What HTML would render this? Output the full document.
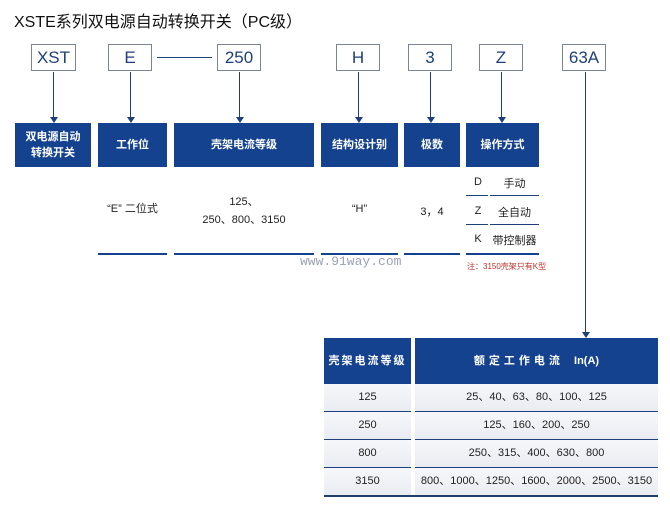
<!DOCTYPE html>
<html><head><meta charset="utf-8"><style>
body{margin:0;width:670px;height:525px;background:#fff;position:relative;overflow:hidden;font-family:"Liberation Sans","Noto Sans CJK SC",sans-serif;color:#222}
.a{position:absolute}
.tb{position:absolute;top:44px;height:27px;border:1px solid #7a8496;box-sizing:border-box;font-size:17px;color:#1e3f7a;text-align:center;line-height:26px;background:#fff}
.bb{position:absolute;top:123px;height:44px;background:#15428f;color:#fff;font-size:11px;font-weight:bold;display:flex;align-items:center;justify-content:center;text-align:center;line-height:16px}
.vl{position:absolute;width:1px;background:#1e3f7a}
.ar{position:absolute;width:0;height:0;border-left:4px solid transparent;border-right:4px solid transparent;border-top:6px solid #1e3f7a}
.hl{position:absolute;height:2px;background:#15428f}
.t{position:absolute;font-size:11px;color:#222;text-align:center}
.row{position:absolute;left:324px;width:334px;height:27px;font-size:11px}
.row div{position:absolute;top:0;height:27px;line-height:27px;text-align:center;background:linear-gradient(#f6f7fa,#e9ecf2)}
</style></head><body>
<div class="a" style="left:14px;top:8px;font-size:16px;color:#111">XSTE系列双电源自动转换开关（PC级）</div>

<div class="tb" style="left:31px;width:45px">XST</div>
<div class="tb" style="left:108px;width:44px">E</div>
<div class="a" style="left:157px;top:57px;width:55px;height:1px;background:#1e3f7a"></div>
<div class="tb" style="left:217px;width:44px">250</div>
<div class="tb" style="left:336px;width:44px">H</div>
<div class="tb" style="left:408px;width:44px">3</div>
<div class="tb" style="left:479px;width:44px">Z</div>
<div class="tb" style="left:562px;width:44px">63A</div>

<div class="vl" style="left:53px;top:72px;height:46px"></div><div class="ar" style="left:50px;top:117px"></div>
<div class="vl" style="left:130px;top:72px;height:46px"></div><div class="ar" style="left:127px;top:117px"></div>
<div class="vl" style="left:239px;top:72px;height:46px"></div><div class="ar" style="left:236px;top:117px"></div>
<div class="vl" style="left:358px;top:72px;height:46px"></div><div class="ar" style="left:355px;top:117px"></div>
<div class="vl" style="left:430px;top:72px;height:46px"></div><div class="ar" style="left:427px;top:117px"></div>
<div class="vl" style="left:501px;top:72px;height:46px"></div><div class="ar" style="left:498px;top:117px"></div>
<div class="vl" style="left:585px;top:72px;height:260px"></div><div class="ar" style="left:582px;top:332px"></div>

<div class="bb" style="left:15px;width:76px">双电源自动<br>转换开关</div>
<div class="bb" style="left:98px;width:69px">工作位</div>
<div class="bb" style="left:174px;width:140px">壳架电流等级</div>
<div class="bb" style="left:321px;width:77px">结构设计别</div>
<div class="bb" style="left:404px;width:56px">极数</div>
<div class="bb" style="left:466px;width:73px">操作方式</div>

<div class="t" style="left:98px;width:69px;top:200px">“E” 二位式</div>
<div class="t" style="left:174px;width:140px;top:193px;line-height:18px">125、<br>250、800、3150</div>
<div class="t" style="left:321px;width:77px;top:203px">“H”</div>
<div class="t" style="left:404px;width:56px;top:203px">3，4</div>
<div class="t" style="left:466px;width:24px;top:176px">D</div>
<div class="t" style="left:490px;width:49px;top:175px">手动</div>
<div class="t" style="left:466px;width:24px;top:205px">Z</div>
<div class="t" style="left:490px;width:49px;top:204px">全自动</div>
<div class="t" style="left:466px;width:24px;top:233px">K</div>
<div class="t" style="left:490px;width:49px;top:232px">带控制器</div>
<div class="a" style="left:466px;top:195px;width:22px;height:1px;background:#1e3f7a"></div>
<div class="a" style="left:490px;top:195px;width:49px;height:1px;background:#1e3f7a"></div>
<div class="a" style="left:466px;top:224px;width:22px;height:1px;background:#1e3f7a"></div>
<div class="a" style="left:490px;top:224px;width:49px;height:1px;background:#1e3f7a"></div>

<div class="hl" style="left:98px;top:253px;width:69px"></div>
<div class="hl" style="left:174px;top:253px;width:140px"></div>
<div class="hl" style="left:321px;top:253px;width:77px"></div>
<div class="hl" style="left:404px;top:253px;width:56px"></div>
<div class="hl" style="left:466px;top:253px;width:73px"></div>
<div class="a" style="left:467px;top:261px;font-size:8px;color:#c0302a">注：3150壳架只有K型</div>
<div class="a" style="left:300px;top:254px;font-family:'Liberation Mono',monospace;font-size:13px;color:#9aa3b3">www.91way.com</div>

<div class="a" style="left:324px;top:338px;width:87px;height:46px;background:#15428f;color:#fff;font-size:11px;font-weight:bold;line-height:46px;text-align:center;letter-spacing:2px">壳架电流等级</div>
<div class="a" style="left:415px;top:338px;width:243px;height:46px;background:#15428f;color:#fff;font-size:11px;font-weight:bold;line-height:46px;text-align:center;letter-spacing:4px">额定工作电流 <span style="letter-spacing:0">&nbsp;In(A)</span></div>
<div class="row" style="top:384px"><div style="left:0;width:87px">125</div><div style="left:91px;width:243px">25、40、63、80、100、125</div></div>
<div class="row" style="top:412px"><div style="left:0;width:87px">250</div><div style="left:91px;width:243px">125、160、200、250</div></div>
<div class="row" style="top:440px"><div style="left:0;width:87px">800</div><div style="left:91px;width:243px">250、315、400、630、800</div></div>
<div class="row" style="top:468px"><div style="left:0;width:87px">3150</div><div style="left:91px;width:243px">800、1000、1250、1600、2000、2500、3150</div></div>
<div class="a" style="left:324px;top:411px;width:334px;height:1px;background:#1e3f7a"></div>
<div class="a" style="left:324px;top:439px;width:334px;height:1px;background:#1e3f7a"></div>
<div class="a" style="left:324px;top:467px;width:334px;height:1px;background:#1e3f7a"></div>
<div class="a" style="left:324px;top:495px;width:334px;height:2px;background:#1e3f6a"></div>
<div class="a" style="left:411px;top:384px;width:4px;height:111px;background:#fff"></div>
</body></html>
